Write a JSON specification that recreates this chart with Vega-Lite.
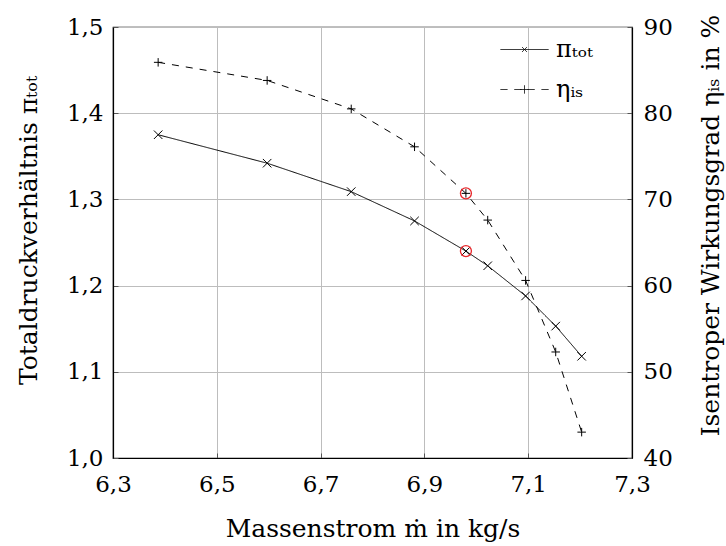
{
  "$schema": "https://vega.github.io/schema/vega-lite/v6.json",
  "autosize": "none",
  "width": 519,
  "height": 431,
  "padding": {"left": 113, "top": 27, "right": 94, "bottom": 88},
  "background": "white",
  "data": {
    "values": [
      {"m": 6.387, "pi": 1.375, "eta": 85.9},
      {"m": 6.597, "pi": 1.342, "eta": 83.8},
      {"m": 6.759, "pi": 1.309, "eta": 80.5},
      {"m": 6.881, "pi": 1.275, "eta": 76.1},
      {"m": 6.98, "pi": 1.240, "eta": 70.7},
      {"m": 7.022, "pi": 1.223, "eta": 67.6},
      {"m": 7.095, "pi": 1.188, "eta": 60.6},
      {"m": 7.153, "pi": 1.153, "eta": 52.3},
      {"m": 7.203, "pi": 1.118, "eta": 43.0}
    ]
  },
  "encoding": {
    "x": {
      "field": "m",
      "type": "quantitative",
      "scale": {"domain": [6.3, 7.3], "nice": false, "zero": false},
      "axis": {
        "values": [6.3, 6.5, 6.7, 6.9, 7.1, 7.3],
        "labelExpr": "replace(format(datum.value, '.1f'), '.', ',')",
        "title": "Massenstrom ṁ in kg/s",
        "titlePadding": 20,
        "labelPadding": 20
      }
    }
  },
  "layer": [
    {
      "encoding": {
        "y": {
          "field": "pi",
          "type": "quantitative",
          "scale": {"domain": [1.0, 1.5], "nice": false, "zero": false},
          "axis": {
            "orient": "left",
            "values": [1.0, 1.1, 1.2, 1.3, 1.4, 1.5],
            "labelExpr": "replace(format(datum.value, '.1f'), '.', ',')",
            "title": "Totaldruckverhältnis πₜₒₜ",
            "titlePadding": 25,
            "titleY": 203,
            "labelPadding": 15
          }
        }
      },
      "layer": [
        {
          "mark": {"type": "line", "color": "black", "strokeWidth": 1},
          "encoding": {
            "strokeDash": {
              "datum": "πₜₒₜ",
              "scale": {"domain": ["πₜₒₜ"], "range": [[1, 0]]},
              "legend": {
                "title": null,
                "orient": "none",
                "legendX": 387,
                "legendY": -2,
                "padding": 0,
                "labelOffset": 7,
                "symbolType": "M-1,0H1M-0.1,-0.1L0.1,0.1M-0.1,0.1L0.1,-0.1",
                "symbolSize": 2304,
                "symbolStrokeWidth": 1,
                "symbolStrokeColor": "black",
                "labelFont": "DejaVu Serif",
                "labelFontSize": 24,
                "labelColor": "black"
              }
            }
          }
        },
        {"mark": {"type": "point", "shape": "M-1,-1L1,1M-1,1L1,-1", "filled": false, "color": "black", "strokeWidth": 1, "size": 72, "opacity": 1}},
        {
          "transform": [{"filter": "datum.m == 6.98"}],
          "mark": {"type": "point", "shape": "circle", "filled": false, "stroke": "#e8262a", "strokeWidth": 1.3, "size": 121, "opacity": 1}
        }
      ]
    },
    {
      "encoding": {
        "y": {
          "field": "eta",
          "type": "quantitative",
          "scale": {"domain": [40, 90], "nice": false, "zero": false},
          "axis": {
            "orient": "right",
            "values": [40, 50, 60, 70, 80, 90],
            "format": "d",
            "grid": false,
            "title": "Isentroper Wirkungsgrad ηᵢₛ in %",
            "titleAngle": -90,
            "titleBaseline": "top",
            "titleY": 198,
            "titlePadding": 26,
            "labelPadding": 16
          }
        }
      },
      "layer": [
        {
          "mark": {"type": "line", "strokeWidth": 1, "strokeDash": [7, 7]},
          "encoding": {
            "color": {
              "datum": "ηᵢₛ",
              "scale": {"domain": ["ηᵢₛ"], "range": ["black"]},
              "legend": {
                "title": null,
                "orient": "none",
                "legendX": 387,
                "legendY": 38,
                "padding": 0,
                "labelOffset": 7,
                "symbolType": "M-1,0H-0.71M-0.42,0H-0.13M0.13,0H0.42M0.71,0H1M-0.17,0H0.17M0,-0.17V0.17",
                "symbolSize": 2304,
                "symbolStrokeWidth": 1,
                "symbolDash": [1, 0],
                "labelFont": "DejaVu Serif",
                "labelFontSize": 24,
                "labelColor": "black",
                "encode": {"symbols": {"update": {"strokeDash": {"value": [1, 0]}}}}
              }
            }
          }
        },
        {"mark": {"type": "point", "shape": "M-1,0H1M0,-1V1", "filled": false, "color": "black", "strokeWidth": 1, "size": 72, "opacity": 1}},
        {
          "transform": [{"filter": "datum.m == 6.98"}],
          "mark": {"type": "point", "shape": "circle", "filled": false, "stroke": "#e8262a", "strokeWidth": 1.3, "size": 121, "opacity": 1}
        }
      ]
    }
  ],
  "resolve": {"scale": {"y": "independent"}},
  "config": {
    "font": "DejaVu Serif",
    "view": {"stroke": "black", "strokeWidth": 1.2},
    "axis": {
      "labelFont": "DejaVu Serif",
      "labelFontSize": 23,
      "labelColor": "black",
      "titleFont": "DejaVu Serif",
      "titleFontSize": 25,
      "titleFontWeight": "normal",
      "titleColor": "black",
      "domainColor": "black",
      "domainWidth": 1.2,
      "ticks": true,
      "tickSize": -5,
      "tickColor": "#555555",
      "gridColor": "#bdbdbd",
      "gridWidth": 1,
      "labelFlush": false,
      "labelOverlap": false
    }
  }
}
